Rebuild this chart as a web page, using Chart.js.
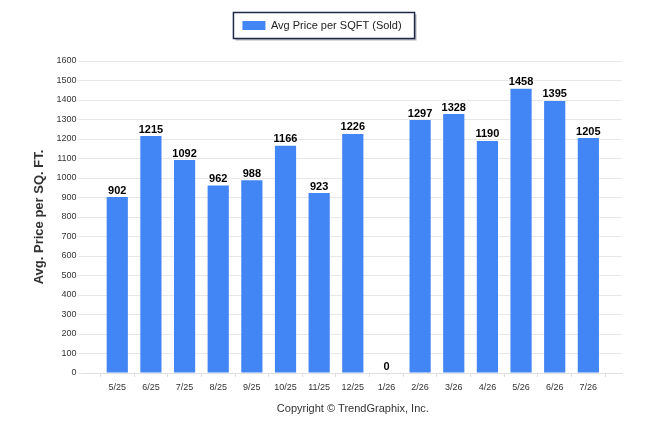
<!DOCTYPE html>
<html>
<head>
<meta charset="utf-8">
<script src="https://cdn.jsdelivr.net/npm/chart.js@4"></script>
<style>
  html, body { margin: 0; padding: 0; background: #ffffff; }
  #wrap { width: 646px; height: 434px; }
</style>
</head>
<body>
<div id="wrap"><canvas id="c" width="646" height="434"></canvas></div>
<script>
const categories = ['5/25','6/25','7/25','8/25','9/25','10/25','11/25','12/25','1/26','2/26','3/26','4/26','5/26','6/26','7/26'];
const avgPriceSold = [902, 1215, 1092, 962, 988, 1166, 923, 1226, 0, 1297, 1328, 1190, 1458, 1395, 1205];
const yTicks = [0,100,200,300,400,500,600,700,800,900,1000,1100,1200,1300,1400,1500,1600];
const seriesName = 'Avg Price per SQFT (Sold)';
const yTitle = 'Avg. Price per SQ. FT.';
const copyright = 'Copyright \u00A9 TrendGraphix, Inc.';

// axis has an empty slot on each side of the categories
const labels = [''].concat(categories, ['']);
const values = [null].concat(avgPriceSold, [null]);

const FONT = "'Liberation Sans', Arial, sans-serif";

const legendGap = {
  id: 'legendGap',
  beforeInit(chart) {
    const lg = chart.legend;
    if (!lg) return;
    const origFit = lg.fit;
    lg.fit = function () {
      origFit.call(this);
      this.height += 20;
    };
  }
};

const bgAndLegendBox = {
  id: 'bgAndLegendBox',
  beforeDraw(chart) {
    const ctx = chart.ctx;
    ctx.save();
    ctx.fillStyle = '#ffffff';
    ctx.fillRect(0, 0, chart.width, chart.height);
    const hb = chart.legend && chart.legend.legendHitBoxes && chart.legend.legendHitBoxes[0];
    if (hb) {
      const cy = hb.top + hb.height / 2;
      const x0 = hb.left - 9, x1 = hb.left + hb.width + 13;
      const y0 = cy - 13, y1 = cy + 13;
      ctx.fillStyle = 'rgba(120,120,120,0.55)';
      ctx.fillRect(x0 + 2, y0 + 2, x1 - x0, y1 - y0);
      ctx.fillStyle = '#ffffff';
      ctx.fillRect(x0, y0, x1 - x0, y1 - y0);
      ctx.strokeStyle = '#1c2948';
      ctx.lineWidth = 1.5;
      ctx.strokeRect(x0, y0, x1 - x0, y1 - y0);
    }
    ctx.restore();
  }
};

const valueLabels = {
  id: 'valueLabels',
  afterDatasetsDraw(chart) {
    const ctx = chart.ctx;
    const meta = chart.getDatasetMeta(0);
    ctx.save();
    ctx.font = "bold 11px " + FONT;
    ctx.fillStyle = '#000000';
    ctx.textAlign = 'center';
    ctx.textBaseline = 'alphabetic';
    meta.data.forEach((bar, i) => {
      const v = chart.data.datasets[0].data[i];
      if (v === null || v === undefined) return;
      ctx.fillText(String(v), bar.x, bar.y - 3.5);
    });
    ctx.restore();
  }
};

new Chart(document.getElementById('c'), {
  type: 'bar',
  data: {
    labels: labels,
    datasets: [{
      label: seriesName,
      data: values,
      backgroundColor: '#4285F4',
      borderWidth: 0,
      categoryPercentage: 1,
      barPercentage: 0.63
    }]
  },
  options: {
    responsive: false,
    animation: false,
    devicePixelRatio: 1,
    layout: { padding: { top: 10, left: 22, right: 24, bottom: 10 } },
    plugins: {
      legend: {
        display: true,
        position: 'top',
        labels: {
          boxWidth: 23,
          boxHeight: 9,
          padding: 10,
          color: '#222222',
          font: { family: FONT, size: 11 }
        }
      },
      subtitle: {
        display: true,
        position: 'bottom',
        fullSize: false,
        text: copyright,
        color: '#333333',
        font: { family: FONT, size: 11, weight: 'normal' },
        padding: { top: 5, bottom: 8 }
      },
      tooltip: { enabled: false }
    },
    scales: {
      x: {
        offset: false,
        grid: {
          display: true,
          drawOnChartArea: false,
          drawTicks: true,
          tickLength: 4,
          color: '#dddddd'
        },
        border: { display: true, color: '#e0e0e0' },
        ticks: {
          autoSkip: false,
          maxRotation: 0,
          minRotation: 0,
          padding: 5,
          color: '#333333',
          font: { family: FONT, size: 9 }
        }
      },
      y: {
        min: 0,
        max: 1600,
        afterBuildTicks(axis) { axis.ticks = yTicks.map(v => ({ value: v })); },
        grid: {
          color: '#e8e8e8',
          drawTicks: true,
          tickLength: 6
        },
        border: { display: false },
        ticks: {
          padding: 1,
          color: '#333333',
          font: { family: FONT, size: 9 },
          callback: (v) => String(v)
        },
        title: {
          display: true,
          text: yTitle,
          color: '#333333',
          font: { family: FONT, size: 13, weight: 'bold' },
          padding: { top: 10, bottom: 8 }
        }
      }
    }
  },
  plugins: [legendGap, bgAndLegendBox, valueLabels]
});
</script>
</body>
</html>
